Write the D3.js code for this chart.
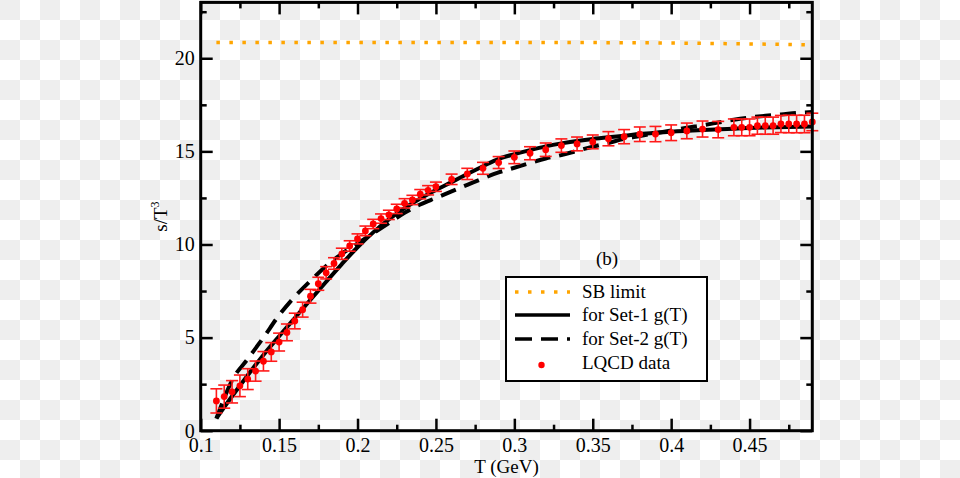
<!DOCTYPE html>
<html><head><meta charset="utf-8">
<script src="https://cdn.jsdelivr.net/npm/d3@7"></script>
<style>body{margin:0;background:#fff;} svg{display:block;}</style>
</head><body>
<svg id="c" width="960" height="478"></svg>
<script>
// ---- data ----
const lqcdT = [0.11,0.115,0.12,0.125,0.13,0.135,0.14,0.145,0.15,0.155,0.16,0.165,0.17,0.175,0.18,0.185,0.19,0.195,0.2,0.205,0.21,0.215,0.22,0.225,0.23,0.235,0.24,0.245,0.25,0.26,0.27,0.28,0.29,0.30,0.31,0.32,0.33,0.34,0.35,0.36,0.37,0.38,0.39,0.40,0.41,0.42,0.43,0.44,0.445,0.45,0.455,0.46,0.465,0.47,0.475,0.48,0.485,0.49];
const lqcdS = [1.60,1.83,2.09,2.41,2.77,3.20,3.73,4.23,4.76,5.28,5.89,6.50,7.22,7.89,8.48,8.98,9.50,9.92,10.30,10.73,11.10,11.39,11.59,11.91,12.21,12.39,12.70,12.91,13.10,13.50,13.79,14.09,14.40,14.68,14.90,15.09,15.31,15.40,15.51,15.68,15.79,15.92,15.93,16.00,16.10,16.20,16.17,16.29,16.29,16.29,16.38,16.38,16.38,16.47,16.47,16.47,16.47,16.58];
const lqcdErr = [0.65,0.62,0.60,0.58,0.56,0.54,0.52,0.50,0.48,0.45,0.42,0.40,0.37,0.35,0.33,0.31,0.30,0.28,0.27,0.26,0.25,0.25,0.25,0.25,0.25,0.25,0.25,0.25,0.25,0.28,0.30,0.32,0.32,0.34,0.35,0.36,0.36,0.37,0.37,0.38,0.38,0.39,0.41,0.42,0.42,0.43,0.44,0.45,0.45,0.45,0.46,0.46,0.46,0.46,0.47,0.47,0.47,0.47];

const set1T = [0.11,0.12,0.13,0.14,0.15,0.16,0.17,0.18,0.19,0.20,0.21,0.22,0.23,0.24,0.25,0.26,0.27,0.28,0.29,0.30,0.31,0.32,0.33,0.34,0.35,0.36,0.37,0.38,0.39,0.40,0.42,0.44,0.46,0.49];
const set1S = [0.67,1.85,2.98,4.07,5.07,6.05,7.03,8.0,8.95,9.85,10.65,11.35,11.95,12.47,12.93,13.35,13.78,14.2,14.6,14.85,15.07,15.27,15.43,15.56,15.67,15.76,15.84,15.93,16.0,16.06,16.15,16.22,16.28,16.33];

const set2T = [0.11,0.115,0.12,0.13,0.14,0.15,0.16,0.17,0.18,0.19,0.20,0.21,0.22,0.23,0.24,0.25,0.26,0.27,0.28,0.29,0.30,0.31,0.32,0.33,0.34,0.35,0.36,0.37,0.38,0.39,0.40,0.41,0.42,0.43,0.44,0.45,0.46,0.47,0.48,0.49];
const set2S = [0.65,1.75,2.7,3.85,5.0,6.2,7.2,8.05,8.85,9.5,10.05,10.6,11.15,11.7,12.15,12.5,12.85,13.2,13.55,13.87,14.12,14.38,14.62,14.8,15.03,15.25,15.45,15.67,15.82,15.98,16.12,16.27,16.4,16.55,16.7,16.82,16.91,16.98,17.06,17.12];

const sbT = [0.11,0.35,0.42,0.49];
const sbS = [20.84,20.84,20.80,20.72];

const xTicks = [0.1,0.15,0.2,0.25,0.3,0.35,0.4,0.45];
const xTickLabels = ["0.1","0.15","0.2","0.25","0.3","0.35","0.4","0.45"];
const xMinor = [0.125,0.175,0.225,0.275,0.325,0.375,0.425,0.475];
const yTicks = [0,5,10,15,20];
const yTickLabels = ["0","5","10","15","20"];
const yMinor = [2.5,7.5,12.5,17.5,22.5];

const legendLabels = ["SB limit","for Set-1 g(T)","for Set-2 g(T)","LQCD data"];

// ---- layout ----
const svg = d3.select("#c");
const L = 200.7, R = 812.3, T = 2.4, B = 430.7;
const x = d3.scaleLinear().domain([0.1,0.49]).range([L,R]);
const y = d3.scaleLinear().domain([0,23]).range([B,T]);
const font = "'Liberation Serif','Times New Roman',serif";

// checkerboard background (transparent-image look)
const defs = svg.append("defs");
const pat = defs.append("pattern").attr("id","chk").attr("width",40).attr("height",40).attr("patternUnits","userSpaceOnUse");
pat.append("rect").attr("width",40).attr("height",40).attr("fill","#ffffff");
pat.append("rect").attr("x",0).attr("y",0).attr("width",20).attr("height",20).attr("fill","#eeeeee");
pat.append("rect").attr("x",20).attr("y",20).attr("width",20).attr("height",20).attr("fill","#eeeeee");
svg.append("rect").attr("width",960).attr("height",478).attr("fill","url(#chk)");

// ---- curves ----
const line = d3.line().x(d=>x(d[0])).y(d=>y(d[1])).curve(d3.curveMonotoneX);
const g = svg.append("g");
g.append("path").datum(sbT.map((t,i)=>[t,sbS[i]])).attr("d",line)
  .attr("fill","none").attr("stroke","#ffa500").attr("stroke-width",3.5).attr("stroke-dasharray","3.5,9.5");
g.append("path").datum(set1T.map((t,i)=>[t,set1S[i]])).attr("d",line)
  .attr("fill","none").attr("stroke","#000").attr("stroke-width",4);
g.append("path").datum(set2T.map((t,i)=>[t,set2S[i]])).attr("d",line)
  .attr("fill","none").attr("stroke","#000").attr("stroke-width",4).attr("stroke-dasharray","16,9");

// ---- LQCD data with error bars ----
const data = lqcdT.map((t,i)=>({t, s:lqcdS[i], e:lqcdErr[i]}));
const eb = g.append("g").attr("stroke","#ff1a1a").attr("stroke-width",1.6);
data.forEach(d=>{
  const cx = x(d.t), y1 = y(d.s+d.e), y2 = y(d.s-d.e);
  eb.append("line").attr("x1",cx).attr("x2",cx).attr("y1",y1).attr("y2",y2);
  eb.append("line").attr("x1",cx-6).attr("x2",cx+6).attr("y1",y1).attr("y2",y1);
  eb.append("line").attr("x1",cx-6).attr("x2",cx+6).attr("y1",y2).attr("y2",y2);
});
g.append("g").selectAll("circle").data(data).join("circle")
  .attr("cx",d=>x(d.t)).attr("cy",d=>y(d.s)).attr("r",3.4).attr("fill","#ff0000");

// ---- axes ----
function styleAxis(sel){
  sel.select(".domain").remove();
  sel.selectAll(".tick line").attr("stroke","#000").attr("stroke-width",2.5);
  sel.selectAll(".tick text").attr("font-family",font).attr("font-size",20).attr("fill","#000");
}
const ax = svg.append("g");
ax.append("g").attr("transform",`translate(0,${B})`)
  .call(d3.axisBottom(x).tickValues(xTicks).tickFormat((d,i)=>xTickLabels[i]).tickSizeInner(-12).tickSizeOuter(0).tickPadding(7)).call(styleAxis);
ax.append("g").attr("transform",`translate(0,${B})`)
  .call(d3.axisBottom(x).tickValues(xMinor).tickFormat("").tickSizeInner(-6).tickSizeOuter(0)).call(styleAxis);
ax.append("g").attr("transform",`translate(0,${T})`)
  .call(d3.axisTop(x).tickValues(xTicks).tickFormat("").tickSizeInner(-12).tickSizeOuter(0)).call(styleAxis);
ax.append("g").attr("transform",`translate(0,${T})`)
  .call(d3.axisTop(x).tickValues(xMinor).tickFormat("").tickSizeInner(-6).tickSizeOuter(0)).call(styleAxis);
ax.append("g").attr("transform",`translate(${L},0)`)
  .call(d3.axisLeft(y).tickValues(yTicks).tickFormat((d,i)=>yTickLabels[i]).tickSizeInner(-12).tickSizeOuter(0).tickPadding(6)).call(styleAxis);
ax.append("g").attr("transform",`translate(${L},0)`)
  .call(d3.axisLeft(y).tickValues(yMinor).tickFormat("").tickSizeInner(-6).tickSizeOuter(0)).call(styleAxis);
ax.append("g").attr("transform",`translate(${R},0)`)
  .call(d3.axisRight(y).tickValues(yTicks).tickFormat("").tickSizeInner(-12).tickSizeOuter(0)).call(styleAxis);
ax.append("g").attr("transform",`translate(${R},0)`)
  .call(d3.axisRight(y).tickValues(yMinor).tickFormat("").tickSizeInner(-6).tickSizeOuter(0)).call(styleAxis);

svg.append("rect").attr("x",L).attr("y",T).attr("width",R-L).attr("height",B-T)
  .attr("fill","none").attr("stroke","#000").attr("stroke-width",3);

// axis titles
svg.append("text").attr("x",(L+R)/2).attr("y",473).attr("text-anchor","middle")
  .attr("font-family",font).attr("font-size",19).text("T (GeV)");
const yl = svg.append("text").attr("transform",`translate(167,${(T+B)/2}) rotate(-90)`).attr("text-anchor","middle")
  .attr("font-family",font).attr("font-size",19);
yl.append("tspan").text("s/T");
yl.append("tspan").attr("font-size",12).attr("dy",-8).text("3");

// ---- legend ----
svg.append("text").attr("x",607).attr("y",265).attr("text-anchor","middle")
  .attr("font-family",font).attr("font-size",19).text("(b)");
const lg = svg.append("g");
lg.append("rect").attr("x",506).attr("y",277).attr("width",201).attr("height",104)
  .attr("fill","#fff").attr("stroke","#000").attr("stroke-width",2);
const ly = [292,315,339,363];
lg.append("line").attr("x1",515).attr("x2",570).attr("y1",ly[0]).attr("y2",ly[0])
  .attr("stroke","#ffa500").attr("stroke-width",3.5).attr("stroke-dasharray","3.5,9.5");
lg.append("line").attr("x1",515).attr("x2",570).attr("y1",ly[1]).attr("y2",ly[1])
  .attr("stroke","#000").attr("stroke-width",3.5);
lg.append("line").attr("x1",515).attr("x2",570).attr("y1",ly[2]).attr("y2",ly[2])
  .attr("stroke","#000").attr("stroke-width",3.5).attr("stroke-dasharray","17,9");
lg.append("circle").attr("cx",541.5).attr("cy",ly[3]+2).attr("r",3.2).attr("fill","#ff0000");
legendLabels.forEach((t,i)=>{
  lg.append("text").attr("x",582).attr("y",ly[i]+6).attr("font-family",font).attr("font-size",19).text(t);
});
</script>
</body></html>
